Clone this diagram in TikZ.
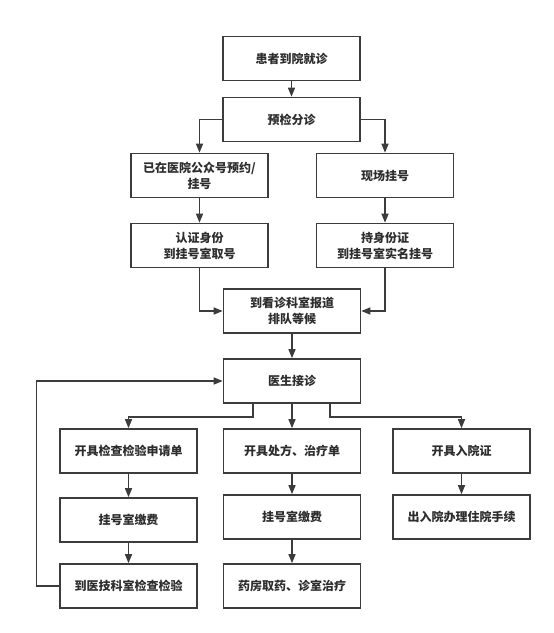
\documentclass[tikz,border=0pt]{standalone}
\usepackage{fontspec}
\usepackage{tikz}
\usetikzlibrary{arrows.meta, positioning, calc}
\newfontfamily\cjk{Noto Sans CJK SC}
\definecolor{flowline}{RGB}{60, 60, 60}
\definecolor{flowtext}{RGB}{45, 45, 45}
\tikzset{
    stepbox/.style={draw=flowline, line width=1.6pt, fill=white, minimum width=137pt,
        minimum height=44pt, inner sep=2pt, align=center, text=flowtext,
        font=\cjk\bfseries\fontsize{12}{16}\selectfont},
    flow/.style={->, draw=flowline, line width=1.4pt}
}
\begin{document}
\begin{tikzpicture}[x=1pt, y=-1pt, >={Triangle[length=9pt, width=7pt]}]
    \useasboundingbox (0, 0) rectangle (554, 633);

    % upper part: registration
    \node[stepbox] (arrive) at (291.5, 58.5) {患者到院就诊};
    \node[stepbox] (triage) at (291.5, 119.5) {预检分诊};
    \node[stepbox] (online) at (199.5, 175.5) {已在医院公众号预约/\\挂号};
    \node[stepbox] (onsite) at (385, 175.5) {现场挂号};
    \node[stepbox] (verify) at (199.5, 245.5) {认证身份\\到挂号室取号};
    \node[stepbox] (idcard) at (385, 245.5) {持身份证\\到挂号室实名挂号};
    \node[stepbox] (report) at (292, 311) {到看诊科室报道\\排队等候};
    \node[stepbox] (doctor) at (292, 381) {医生接诊};

    % lower part: three branches
    \node[stepbox] (exam) at (128.5, 451) {开具检查检验申请单};
    \node[stepbox] (presc) at (292, 451) {开具处方、治疗单};
    \node[stepbox] (admit) at (461.5, 451) {开具入院证};
    \node[stepbox] (payexam) at (128.5, 520) {挂号室缴费};
    \node[stepbox] (paypresc) at (292, 517) {挂号室缴费};
    \node[stepbox] (admproc) at (461.5, 517) {出入院办理住院手续};
    \node[stepbox] (lab) at (128.5, 586) {到医技科室检查检验};
    \node[stepbox] (pharm) at (292, 586) {药房取药、诊室治疗};

    \draw[flow] (arrive) -- (triage);
    \draw[flow] (triage.west) -| (online.north);
    \draw[flow] (triage.east) -| (onsite.north);
    \draw[flow] (online) -- (verify);
    \draw[flow] (onsite) -- (idcard);
    \draw[flow] (verify.south) |- (report.west);
    \draw[flow] (idcard.south) |- (report.east);
    \draw[flow] (report) -- (doctor);

    \draw[flow] ([xshift=-39pt]doctor.south) -- ++(0, 13) -| (exam.north);
    \draw[flow] (doctor) -- (presc);
    \draw[flow] ([xshift=38pt]doctor.south) -- ++(0, 13) -| (admit.north);

    \draw[flow] (exam) -- (payexam);
    \draw[flow] (payexam) -- (lab);
    \draw[flow] (presc) -- (paypresc);
    \draw[flow] (paypresc) -- (pharm);
    \draw[flow] (admit) -- (admproc);

    % back to the doctor after the tests
    \draw[flow] (lab.west) -- ++(-23, 0) |- (doctor.west);
\end{tikzpicture}
\end{document}
